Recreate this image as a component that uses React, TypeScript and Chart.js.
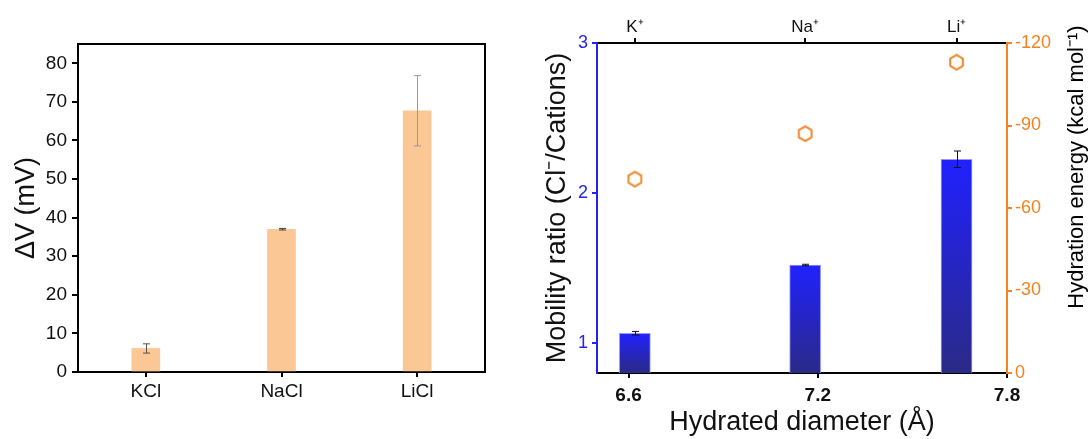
import React, { useEffect, useRef } from "react";
import { Chart, registerables } from "chart.js";
Chart.register(...registerables);

// ---------- Data ----------
const saltCategories = ["KCl", "NaCl", "LiCl"];
const deltaV = [6.1, 37.0, 67.7];
const deltaVErr = [1.2, 0.2, 9.1];
const deltaVTicks = [0, 10, 20, 30, 40, 50, 60, 70, 80];

const cationLabels = ["K⁺", "Na⁺", "Li⁺"];
const hydratedDiameter = [6.62, 7.16, 7.64];
const mobilityRatio = [1.065, 1.52, 2.225];
const mobilityErr = [0.012, 0.005, 0.055];
const hydrationEnergy = [-70.5, -87.0, -113.0];
const diameterTicks = [6.6, 7.2, 7.8];
const mobilityTicks = [1, 2, 3];
const energyTicks = [-120, -90, -60, -30, 0];

const FONT = "'Liberation Sans', Arial, Helvetica, sans-serif";
const BLUE = "#2323f5";
const ORANGE = "#F58220";

Chart.defaults.font.family = FONT;

function makeHexagon(r: number, color: string, lw: number) {
  const c = document.createElement("canvas");
  const size = Math.ceil(2 * r + lw * 2 + 2);
  c.width = size;
  c.height = size;
  const g = c.getContext("2d")!;
  g.strokeStyle = color;
  g.lineWidth = lw;
  g.lineJoin = "miter";
  g.beginPath();
  for (let i = 0; i < 6; i++) {
    const a = -Math.PI / 2 + (i * Math.PI) / 3;
    const x = size / 2 + r * Math.cos(a);
    const y = size / 2 + r * Math.sin(a);
    if (i === 0) g.moveTo(x, y);
    else g.lineTo(x, y);
  }
  g.closePath();
  g.stroke();
  return c;
}

function errorBarPlugin(errs: number[], colors: string[], yId: string, capHalf: number) {
  return {
    id: "errbars",
    afterDatasetsDraw(chart: any) {
      const meta = chart.getDatasetMeta(0);
      const ys = chart.scales[yId];
      const c = chart.ctx;
      c.save();
      meta.data.forEach((el: any, i: number) => {
        const raw: any = chart.data.datasets[0].data[i];
        const val = typeof raw === "number" ? raw : raw.y;
        const top = ys.getPixelForValue(val + errs[i]);
        const bot = ys.getPixelForValue(val - errs[i]);
        const x = Math.round(el.x) + 0.5;
        c.strokeStyle = colors[i];
        c.lineWidth = 1;
        c.beginPath();
        c.moveTo(x, top);
        c.lineTo(x, bot);
        c.moveTo(x - capHalf, top);
        c.lineTo(x + capHalf, top);
        c.moveTo(x - capHalf, bot);
        c.lineTo(x + capHalf, bot);
        c.stroke();
      });
      c.restore();
    },
  };
}

const framePlugin = {
  id: "frame",
  afterDraw(chart: any) {
    const { left, right, top, bottom } = chart.chartArea;
    const c = chart.ctx;
    c.save();
    c.strokeStyle = "#000";
    c.lineWidth = 2;
    c.beginPath();
    c.moveTo(left, top);
    c.lineTo(right, top);
    c.lineTo(right, bottom);
    c.stroke();
    c.restore();
  },
};

function rightTitlePlugin(text: string, x: number, y: number) {
  return {
    id: "rightTitle",
    afterDraw(chart: any) {
      const c = chart.ctx;
      c.save();
      c.translate(x, y);
      c.rotate(-Math.PI / 2);
      c.font = `22px ${FONT}`;
      c.fillStyle = "#000";
      c.textAlign = "center";
      c.textBaseline = "middle";
      c.fillText(text, 0, 0);
      c.restore();
    },
  };
}

function LeftChart() {
  const ref = useRef<HTMLCanvasElement>(null);
  useEffect(() => {
    const chart = new Chart(ref.current!, {
      type: "bar",
      data: {
        labels: saltCategories,
        datasets: [
          {
            data: deltaV,
            backgroundColor: "#FBC794",
            borderWidth: 0,
            barThickness: 28,
          },
        ],
      },
      options: {
        responsive: false,
        animation: false,
        layout: { padding: { top: 44, right: 15, left: 0, bottom: 0 } },
        plugins: { legend: { display: false }, tooltip: { enabled: false } },
        scales: {
          x: {
            grid: { drawOnChartArea: false, drawTicks: true, tickLength: 5, color: "#000", lineWidth: 2, offset: false },
            border: { color: "#000", width: 2 },
            ticks: { color: "#111", font: { size: 19 }, padding: 3 },
            afterFit: (s: any) => {
              s.height = 67;
            },
          },
          y: {
            min: 0,
            max: 85,
            afterBuildTicks: (s: any) => {
              s.ticks = deltaVTicks.map((v) => ({ value: v }));
            },
            grid: { drawOnChartArea: false, drawTicks: true, tickLength: 6, color: "#000", lineWidth: 2 },
            border: { color: "#000", width: 2 },
            ticks: { color: "#111", font: { size: 19 }, padding: 5 },
            title: {
              display: true,
              text: "ΔV (mV)",
              color: "#111",
              font: { size: 27 },
              padding: { top: 10, bottom: 0 },
            },
            afterFit: (s: any) => {
              s.width = 78;
            },
          },
        },
      },
      plugins: [errorBarPlugin(deltaVErr, ["#555", "#444", "#999"], "y", 3.5), framePlugin],
    } as any);
    return () => chart.destroy();
  }, []);
  return <canvas ref={ref} width={500} height={439} style={{ position: "absolute", left: 0, top: 0 }} />;
}

function RightChart() {
  const ref = useRef<HTMLCanvasElement>(null);
  useEffect(() => {
    const hex = makeHexagon(7.3, "#F0852A", 2);
    const chart = new Chart(ref.current!, {
      type: "bar",
      data: {
        datasets: [
          {
            type: "bar",
            data: hydratedDiameter.map((x, i) => ({ x, y: mobilityRatio[i] })),
            xAxisID: "x",
            yAxisID: "y",
            barThickness: 31,
            borderWidth: 1,
            borderColor: "rgba(140,140,255,0.9)",
            backgroundColor: (ctx: any) => {
              const chart = ctx.chart;
              const area = chart.chartArea;
              if (!area || ctx.type !== "data") return BLUE;
              const ys = chart.scales.y;
              const top = ys.getPixelForValue(ctx.raw.y);
              const g = chart.ctx.createLinearGradient(0, top, 0, area.bottom);
              g.addColorStop(0, "#2121ff");
              g.addColorStop(1, "#2a2a86");
              return g;
            },
            order: 2,
          },
          {
            type: "line",
            data: hydratedDiameter.map((x, i) => ({ x, y: hydrationEnergy[i] })),
            xAxisID: "x",
            yAxisID: "y2",
            showLine: false,
            pointStyle: hex,
            pointRadius: 7,
            order: 1,
          },
        ],
      },
      options: {
        responsive: false,
        animation: false,
        layout: { padding: 0 },
        plugins: { legend: { display: false }, tooltip: { enabled: false } },
        scales: {
          x: {
            type: "linear",
            position: "bottom",
            min: 6.5,
            max: 7.8,
            offset: false,
            afterBuildTicks: (s: any) => {
              s.ticks = diameterTicks.map((v) => ({ value: v }));
            },
            grid: { drawOnChartArea: false, drawTicks: true, tickLength: 5, color: "#000", lineWidth: 2, offset: false },
            border: { color: "#000", width: 2 },
            ticks: {
              color: "#111",
              font: { size: 19, weight: "bold" },
              padding: 6,
              maxRotation: 0,
              callback: (v: any) => Number(v).toFixed(1),
            },
            title: {
              display: true,
              text: "Hydrated diameter (Å)",
              color: "#111",
              font: { size: 27 },
              padding: { top: 0, bottom: 0 },
            },
            afterFit: (s: any) => {
              s.height = 66;
            },
          },
          x2: {
            type: "linear",
            position: "top",
            min: 6.5,
            max: 7.8,
            offset: false,
            afterBuildTicks: (s: any) => {
              s.ticks = hydratedDiameter.map((v) => ({ value: v }));
            },
            grid: { drawOnChartArea: false, drawTicks: true, tickLength: 5, color: "#000", lineWidth: 2, offset: false },
            border: { color: "#000", width: 2 },
            ticks: {
              color: "#111",
              font: { size: 17 },
              padding: 0,
              maxRotation: 0,
              callback: (_v: any, i: number) => cationLabels[i],
            },
            afterFit: (s: any) => {
              s.height = 43;
            },
          },
          y: {
            position: "left",
            min: 0.8,
            max: 3,
            afterBuildTicks: (s: any) => {
              s.ticks = mobilityTicks.map((v) => ({ value: v }));
            },
            grid: { drawOnChartArea: false, drawTicks: true, tickLength: 5, color: BLUE, lineWidth: 2 },
            border: { color: BLUE, width: 2 },
            ticks: { color: BLUE, font: { size: 18 }, padding: 4 },
            title: {
              display: true,
              text: "Mobility ratio (Cl⁻/Cations)",
              color: "#111",
              font: { size: 27 },
              padding: { top: 41, bottom: 0 },
            },
            afterFit: (s: any) => {
              s.width = 97;
            },
          },
          y2: {
            position: "right",
            min: -120,
            max: 0,
            reverse: true,
            afterBuildTicks: (s: any) => {
              s.ticks = energyTicks.map((v) => ({ value: v }));
            },
            grid: { drawOnChartArea: false, drawTicks: true, tickLength: 5, color: ORANGE, lineWidth: 2 },
            border: { color: ORANGE, width: 2 },
            ticks: { color: ORANGE, font: { size: 18 }, padding: 3 },
            afterFit: (s: any) => {
              s.width = 84;
            },
          },
        },
      },
      plugins: [
        errorBarPlugin(mobilityErr, ["#111", "#111", "#111"], "y", 3.5),
        rightTitlePlugin("Hydration energy (kcal mol⁻¹)", 577, 167),
      ],
    } as any);
    return () => chart.destroy();
  }, []);
  return <canvas ref={ref} width={591} height={439} style={{ position: "absolute", left: 500, top: 0 }} />;
}

export default function App() {
  return (
    <div style={{ position: "fixed", left: 0, top: 0, width: 1091, height: 439, background: "#fff" }}>
      <LeftChart />
      <RightChart />
    </div>
  );
}
